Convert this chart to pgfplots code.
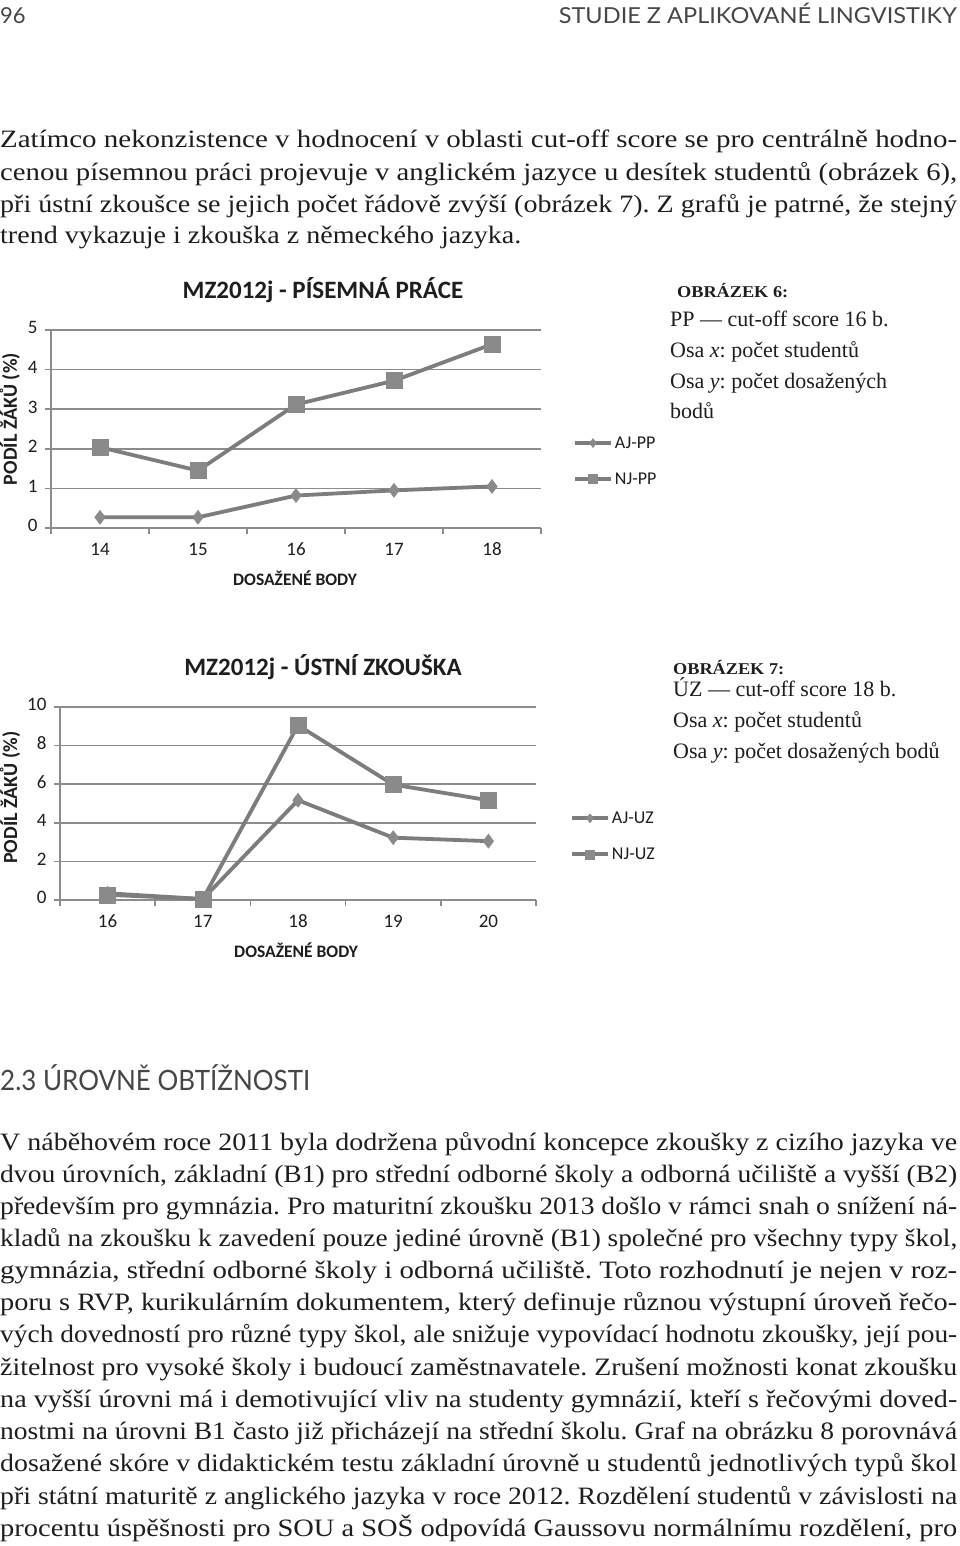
\documentclass[border=0pt]{standalone}
\usepackage{fontspec}
\usepackage{graphicx}
\usepackage{pgfplots}
\pgfplotsset{compat=1.18}
\setmainfont{Liberation Serif}
\newfontfamily\chartfont{Carlito}
\newfontfamily\headfont{Lato}
\newcommand\fs[1]{\fontsize{#1bp}{#1bp}\selectfont}
\definecolor{linegray}{RGB}{125,125,125}
\definecolor{markgray}{RGB}{138,138,138}
\definecolor{gridgray}{RGB}{140,140,140}
\definecolor{textdark}{RGB}{30,30,30}
\definecolor{headgray}{RGB}{70,70,70}
\newcommand\jl[3]{\node[anchor=base west,inner sep=0pt,text=textdark] at (0,#1) {\resizebox{#2bp}{\height}{\fs{25}\frenchspacing #3}};}
\newcommand\cl[3]{\node[anchor=base west,inner sep=0pt,text=textdark] at (#1,#2) {\fs{22}\frenchspacing #3};}
\pgfplotsset{
  pagechart/.style={
    scale only axis,
    axis x line*=bottom, axis y line*=left,
    axis line style={gridgray, line width=1.5bp},
    ymajorgrids, grid style={gridgray, line width=1.5bp},
    major tick length=6bp, tick align=outside,
    tick style={gridgray, line width=1.5bp},
    extra x tick style={major tick length=0pt},
    typeset ticklabels with strut,
    ticklabel style={font=\chartfont\fs{19}, text=textdark},
    xticklabel style={yshift=-11bp},
    yticklabel style={xshift=-4bp},
    /pgf/number format/assume math mode=true,
    title style={anchor=center, font=\chartfont\bfseries\fs{25}, text=textdark},
    xlabel style={anchor=center, font=\chartfont\bfseries\fs{17.5}, text=textdark},
    ylabel style={anchor=center, font=\chartfont\bfseries\fs{20}, text=textdark},
    clip=false,
    legend cell align=left,
    legend style={draw=none, fill=none, font=\chartfont\fs{18}, text=textdark, row sep=19bp,
      nodes={inner sep=2bp}},
    legend image code/.code={\draw[mark repeat=2,mark phase=2,##1,mark size=4.5bp] plot coordinates {(0bp,0bp) (18bp,0bp) (36bp,0bp)};},
  },
  ajstyle/.style={linegray, line width=3.8bp, mark=diamond*, mark size=7bp,
    mark options={fill=markgray, draw=markgray, line width=0.5bp}},
  njstyle/.style={linegray, line width=3.8bp, mark=square*, mark size=8bp,
    mark options={fill=markgray, draw=markgray, line width=0.5bp}},
}
\begin{document}
\frenchspacing
\begin{tikzpicture}
\useasboundingbox (0,0) rectangle (960bp,-1546bp);
\begin{scope}[x=1bp,y=-1bp]
\fill[white] (0,0) rectangle (960,1546);
% header
\node[anchor=base west,inner sep=0pt,text=headgray] at (0,23) {\headfont\fs{22}96};
\node[anchor=base east,inner sep=0pt,text=headgray] at (957,23) {\resizebox{398bp}{\height}{\headfont\fs{22}STUDIE Z APLIKOVANÉ LINGVISTIKY}};
% paragraph 1
\jl{148}{957}{Zatímco nekonzistence v hodnocení v oblasti cut-off score se pro centrálně hodno-}
\jl{180}{957}{cenou písemnou práci projevuje v anglickém jazyce u desítek studentů (obrázek 6),}
\jl{212}{957}{při ústní zkoušce se jejich počet řádově zvýší (obrázek 7). Z grafů je patrné, že stejný}
\jl{244}{521}{trend vykazuje i zkouška z německého jazyka.}
% caption 6
\node[anchor=base west,inner sep=0pt,text=textdark] at (677,298) {\resizebox{111bp}{\height}{\fs{16.5}\bfseries OBRÁZEK 6:}};
\cl{670}{326}{PP — cut-off score 16 b.}
\cl{670}{357}{Osa \textit{x}: počet studentů}
\cl{670}{388}{Osa \textit{y}: počet dosažených}
\cl{670}{418}{bodů}
% caption 7
\node[anchor=base west,inner sep=0pt,text=textdark] at (673,674) {\resizebox{111bp}{\height}{\fs{16.5}\bfseries OBRÁZEK 7:}};
\cl{673}{696}{ÚZ — cut-off score 18 b.}
\cl{673}{727}{Osa \textit{x}: počet studentů}
\cl{673}{758}{Osa \textit{y}: počet dosažených bodů}
% section heading
\node[anchor=base west,inner sep=0pt,text=headgray] at (0,1090) {\resizebox{310bp}{\height}{\headfont\fs{28}2.3 ÚROVNĚ OBTÍŽNOSTI}};
% paragraph 2
\jl{1150}{957}{V náběhovém roce 2011 byla dodržena původní koncepce zkoušky z cizího jazyka ve}
\jl{1182}{957}{dvou úrovních, základní (B1) pro střední odborné školy a odborná učiliště a vyšší (B2)}
\jl{1214}{957}{především pro gymnázia. Pro maturitní zkoušku 2013 došlo v rámci snah o snížení ná-}
\jl{1246}{957}{kladů na zkoušku k zavedení pouze jediné úrovně (B1) společné pro všechny typy škol,}
\jl{1278}{957}{gymnázia, střední odborné školy i odborná učiliště. Toto rozhodnutí je nejen v roz-}
\jl{1310}{957}{poru s RVP, kurikulárním dokumentem, který definuje různou výstupní úroveň řečo-}
\jl{1342}{957}{vých dovedností pro různé typy škol, ale snižuje vypovídací hodnotu zkoušky, její pou-}
\jl{1375}{957}{žitelnost pro vysoké školy i budoucí zaměstnavatele. Zrušení možnosti konat zkoušku}
\jl{1407}{957}{na vyšší úrovni má i demotivující vliv na studenty gymnázií, kteří s řečovými doved-}
\jl{1439}{957}{nostmi na úrovni B1 často již přicházejí na střední školu. Graf na obrázku 8 porovnává}
\jl{1471}{957}{dosažené skóre v didaktickém testu základní úrovně u studentů jednotlivých typů škol}
\jl{1504}{957}{při státní maturitě z anglického jazyka v roce 2012. Rozdělení studentů v závislosti na}
\jl{1536}{957}{procentu úspěšnosti pro SOU a SOŠ odpovídá Gaussovu normálnímu rozdělení, pro}
\end{scope}

% chart 1
\begin{axis}[pagechart,
  at={(51bp,-528bp)}, anchor=south west,
  width=490bp, height=198bp,
  xmin=13.5, xmax=18.5, ymin=0, ymax=5,
  xtick={13.5,14.5,15.5,16.5,17.5,18.5}, xticklabels={},
  extra x ticks={14,15,16,17,18}, extra x tick labels={14,15,16,17,18},
  ytick={0,1,2,3,4,5},
  title={MZ2012j - PÍSEMNÁ PRÁCE}, title style={at={(0.555,1.172)}},
  xlabel={DOSAŽENÉ BODY}, xlabel style={at={(0.498,-0.2525)}},
  ylabel={PODÍL ŽÁKŮ (\%)}, ylabel style={at={(-0.084,0.55)}},
  legend style={at={(1.059,0.338)}, anchor=west},
]
\addplot[ajstyle] coordinates {(14,0.27) (15,0.27) (16,0.82) (17,0.95) (18,1.05)};
\addlegendentry{AJ-PP}
\addplot[njstyle] coordinates {(14,2.04) (15,1.45) (16,3.12) (17,3.72) (18,4.64)};
\addlegendentry{NJ-PP}
\end{axis}

% chart 2
\begin{axis}[pagechart,
  at={(60bp,-900bp)}, anchor=south west,
  width=476bp, height=193bp,
  xmin=15.5, xmax=20.5, ymin=0, ymax=10,
  xtick={15.5,16.5,17.5,18.5,19.5,20.5}, xticklabels={},
  extra x ticks={16,17,18,19,20}, extra x tick labels={16,17,18,19,20},
  ytick={0,2,4,6,8,10},
  title={MZ2012j - ÚSTNÍ ZKOUŠKA}, title style={at={(0.5525,1.177)}},
  xlabel={DOSAŽENÉ BODY}, xlabel style={at={(0.496,-0.259)}},
  ylabel={PODÍL ŽÁKŮ (\%)}, ylabel style={at={(-0.105,0.53)}},
  legend style={at={(1.065,0.33)}, anchor=west},
]
\addplot[ajstyle] coordinates {(16,0.35) (17,0.05) (18,5.17) (19,3.23) (20,3.05)};
\addlegendentry{AJ-UZ}
\addplot[njstyle] coordinates {(16,0.27) (17,0.05) (18,9.05) (19,5.98) (20,5.17)};
\addlegendentry{NJ-UZ}
\end{axis}
\end{tikzpicture}
\end{document}
